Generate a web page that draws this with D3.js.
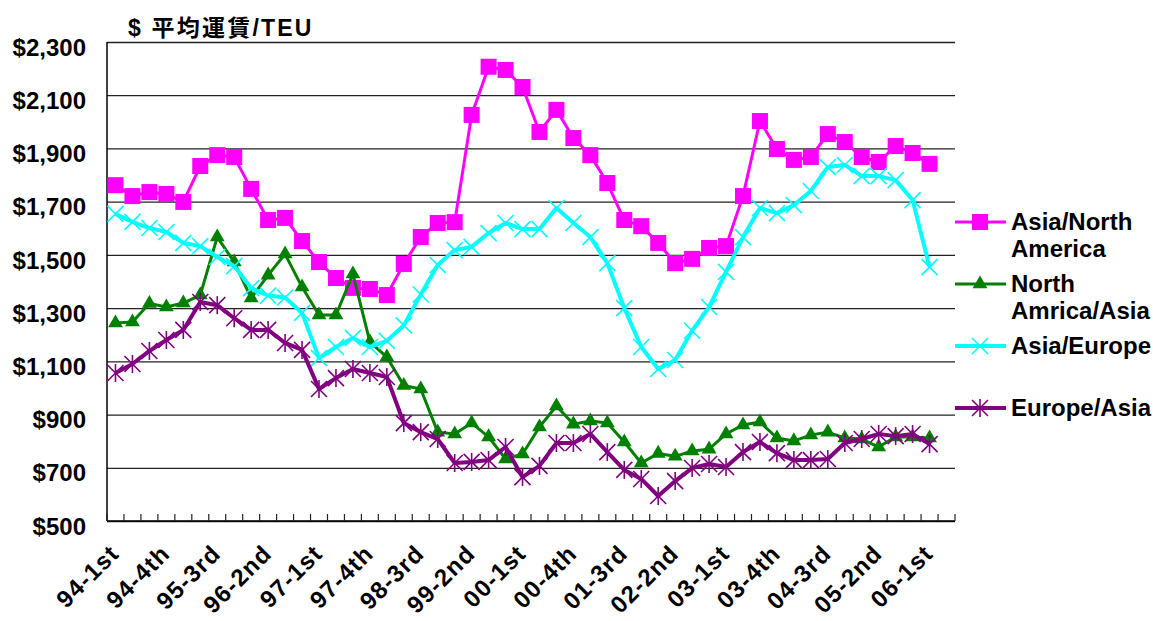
<!DOCTYPE html>
<html>
<head>
<meta charset="utf-8">
<script src="https://cdn.jsdelivr.net/npm/d3@7"></script>
<style>
  body { margin: 0; background: #fff; }
  svg text { font-family: "Liberation Sans", Arial, sans-serif; font-weight: bold; fill: #000; }
</style>
</head>
<body>
<div id="chart"></div>
<script>
// quarters 94-1st .. 06-2nd (last one has no data)
const years = ["94","95","96","97","98","99","00","01","02","03","04","05","06"];
const quarters = ["1st","2nd","3rd","4th"];
const categories = [];
years.forEach(y => quarters.forEach(q => categories.push(y + "-" + q)));
categories.splice(50);

const tickLabels = ["94-1st","94-4th","95-3rd","96-2nd","97-1st","97-4th","98-3rd","99-2nd",
  "00-1st","00-4th","01-3rd","02-2nd","03-1st","03-4th","04-3rd","05-2nd","06-1st"];

const asiaNorthAmerica = [1762,1721,1736,1729,1699,1834,1875,1868,1748,1631,1639,1552,1473,1413,1376,1372,
  1349,1466,1567,1620,1623,2026,2207,2195,2131,1962,2045,1939,1875,1770,1631,1608,1545,1469,1485,1526,
  1533,1721,2003,1898,1857,1868,1954,1924,1868,1849,1909,1883,1842];
const northAmericaAsia = [1244,1248,1317,1304,1319,1349,1567,1473,1338,1424,1503,1379,1274,1274,1428,1173,
  1116,1009,996,834,827,868,816,733,752,853,932,864,876,868,797,718,754,743,763,770,
  827,861,872,812,801,823,834,812,808,778,816,816,812];
const asiaEurope = [1654,1624,1601,1586,1545,1533,1492,1458,1375,1347,1340,1282,1112,1154,1188,1154,
  1177,1235,1351,1462,1518,1530,1582,1620,1597,1597,1676,1620,1567,1469,1300,1154,1071,1105,1215,1304,
  1436,1567,1676,1657,1687,1740,1830,1838,1796,1796,1781,1706,1454];
const europeAsia = [1056,1090,1139,1180,1218,1323,1311,1262,1218,1218,1169,1143,996,1037,1071,1056,
  1041,868,834,808,718,722,729,778,665,707,793,793,827,759,692,658,594,650,699,714,
  703,759,797,755,729,729,733,793,808,827,819,827,789];

const series = [
  {name: ["Asia/North", "America"], values: asiaNorthAmerica, color: "#ff00ff", width: 3, marker: "square", ly: 222},
  {name: ["North", "Amrica/Asia"], values: northAmericaAsia, color: "#008000", width: 3, marker: "triangle", ly: 284},
  {name: ["Asia/Europe"], values: asiaEurope, color: "#00ffff", width: 4, marker: "x", ly: 346},
  {name: ["Europe/Asia"], values: europeAsia, color: "#800080", width: 4, marker: "star", ly: 408}
];

const width = 1153, height = 621;
const plotLeft = 107, plotRight = 955, plotTop = 42, plotBottom = 521;

const svg = d3.select("#chart").append("svg")
  .attr("width", width)
  .attr("height", height);

let x = d3.scaleBand().domain(categories).range([plotLeft, plotRight]);
let y = d3.scaleLinear().domain([500, 2300]).range([plotBottom, plotTop]);
let cx = d => x(d) + x.bandwidth() / 2;

// gridlines + y labels
let yAxis = svg.append("g")
  .attr("transform", "translate(" + plotLeft + ",0)")
  .call(d3.axisLeft(y).tickValues(d3.range(500, 2301, 200))
    .tickFormat(d3.format("$,")).tickSize(-(plotRight - plotLeft)).tickSizeOuter(0).tickPadding(21));
yAxis.select(".domain").remove();
yAxis.selectAll(".tick line").attr("stroke", "#222").attr("stroke-width", 1.3);
yAxis.selectAll(".tick text").attr("font-size", 24).attr("dy", "0.55em");

// axis lines
svg.append("line").attr("x1", plotLeft).attr("x2", plotLeft).attr("y1", plotTop).attr("y2", plotBottom)
  .attr("stroke", "#000").attr("stroke-width", 1.5);
svg.append("line").attr("x1", plotLeft).attr("x2", plotRight).attr("y1", plotBottom).attr("y2", plotBottom)
  .attr("stroke", "#000").attr("stroke-width", 1.5);

// category tick marks at band edges
let edges = categories.map(c => x(c)).concat([plotRight]);
svg.append("g").selectAll("line").data(edges).enter().append("line")
  .attr("x1", d => d).attr("x2", d => d)
  .attr("y1", plotBottom).attr("y2", plotBottom - 7)
  .attr("stroke", "#222").attr("stroke-width", 1.2);

// x labels
svg.append("g").selectAll("text").data(tickLabels).enter().append("text")
  .attr("text-anchor", "end")
  .attr("font-size", 24)
  .style("letter-spacing", "1.2px")
  .attr("transform", d => "translate(" + (cx(d) + 5) + "," + 555 + ") rotate(-45)")
  .text(d => d);

// title
svg.append("text")
  .attr("x", 128).attr("y", 36)
  .attr("font-size", 23)
  .style("font-family", "'Liberation Sans', 'Noto Sans CJK JP', sans-serif")
  .style("letter-spacing", "2.2px")
  .text("$ 平均運賃/TEU");

function drawMarker(g, type, color) {
  if (type == "square") {
    g.append("rect").attr("x", -8).attr("y", -8).attr("width", 16).attr("height", 16).attr("fill", color);
  } else if (type == "triangle") {
    g.append("path").attr("d", d3.symbol().type(d3.symbolTriangle).size(95)()).attr("fill", color);
  } else {
    g.append("path").attr("d", "M-8,-8L8,8M-8,8L8,-8").attr("stroke", color).attr("stroke-width", 1.6);
    if (type == "star") {
      g.append("path").attr("d", "M0,-9L0,9").attr("stroke", color).attr("stroke-width", 1.6);
    }
  }
}

let line = d3.line().x((d, i) => cx(categories[i])).y(d => y(d));

series.forEach(s => {
  let g = svg.append("g");
  g.append("path").datum(s.values)
    .attr("d", line)
    .attr("fill", "none")
    .attr("stroke", s.color)
    .attr("stroke-width", s.width)
    .attr("stroke-linejoin", "round");
  s.values.forEach((v, i) => {
    let m = g.append("g").attr("transform", "translate(" + cx(categories[i]) + "," + y(v) + ")");
    drawMarker(m, s.marker, s.color);
  });
});

// legend
series.forEach(s => {
  let g = svg.append("g");
  g.append("line").attr("x1", 955).attr("x2", 1006).attr("y1", s.ly).attr("y2", s.ly)
    .attr("stroke", s.color).attr("stroke-width", s.width);
  let m = g.append("g").attr("transform", "translate(980," + s.ly + ")");
  drawMarker(m, s.marker, s.color);
  s.name.forEach((t, k) => {
    g.append("text").attr("x", 1011).attr("y", s.ly + 8 + k * 27)
      .attr("font-size", 24).text(t);
  });
});
</script>
</body>
</html>
